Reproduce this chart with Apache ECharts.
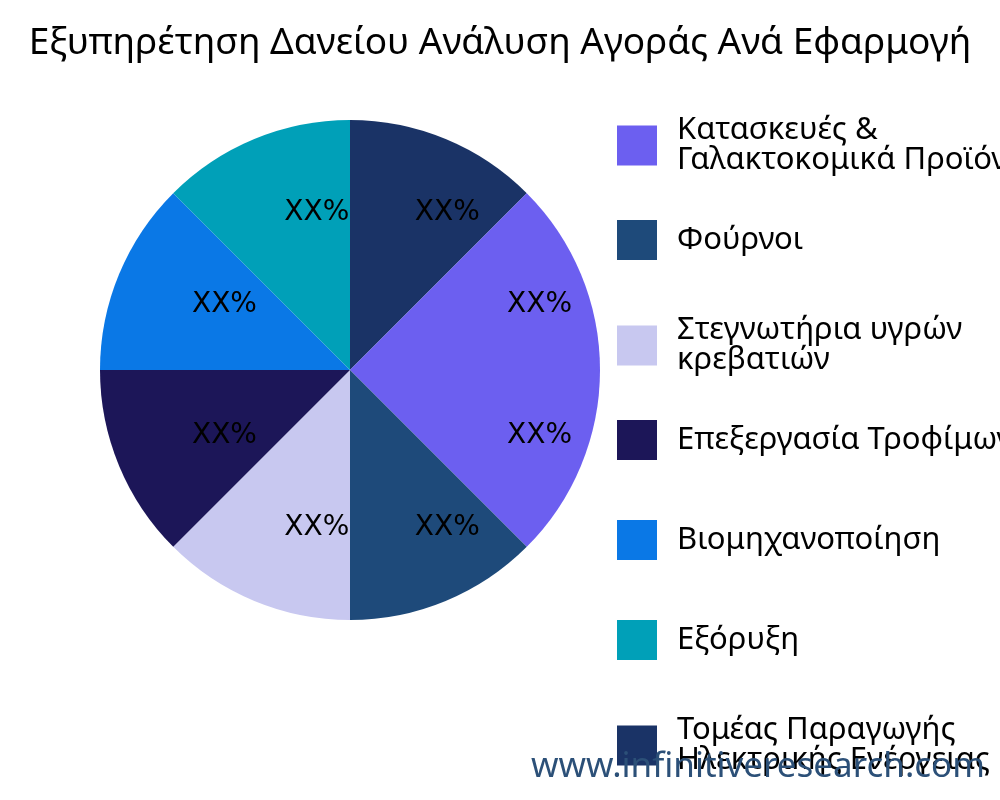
<!DOCTYPE html>
<html>
<head>
<meta charset="utf-8">
<script src="https://cdn.jsdelivr.net/npm/echarts@6/dist/echarts.min.js"></script>
<style>html,body{margin:0;padding:0;background:#fff}#main{width:1000px;height:800px}</style>
</head>
<body>
<div id="main"></div>
<script>
var categories = ['Κατασκευές & Γαλακτοκομικά Προϊόντα', 'Φούρνοι', 'Στεγνωτήρια υγρών κρεβατιών',
    'Επεξεργασία Τροφίμων', 'Βιομηχανοποίηση', 'Εξόρυξη', 'Τομέας Παραγωγής Ηλεκτρικής Ενέργειας', 'Άλλα'];
var values = [12.5, 12.5, 12.5, 12.5, 12.5, 12.5, 12.5, 12.5];
var legendNames = categories.slice(0, 7);
var colors = ['#6c5ff0', '#1e4a7a', '#c8c8f0', '#1c1658', '#0a78e6', '#00a0b8', '#1a3366'];

var wrapped = {
    'Κατασκευές & Γαλακτοκομικά Προϊόντα': 'Κατασκευές &\nΓαλακτοκομικά Προϊόντα',
    'Στεγνωτήρια υγρών κρεβατιών': 'Στεγνωτήρια υγρών\nκρεβατιών',
    'Τομέας Παραγωγής Ηλεκτρικής Ενέργειας': 'Τομέας Παραγωγής\nΗλεκτρικής Ενέργειας'
};

var pieData = [];
for (var i = 0; i < categories.length; i++) {
    pieData.push({ name: categories[i], value: values[i], itemStyle: { color: colors[i % colors.length] } });
}

// one legend per item so every row sits 100px apart
var legends = [];
for (var j = 0; j < legendNames.length; j++) {
    var two = !!wrapped[legendNames[j]];
    legends.push({
        orient: 'vertical', left: 612, top: 115 + 100 * j - (two ? 5 : 0),
        itemWidth: 40, itemHeight: 40, icon: 'rect',
        data: [legendNames[j]],
        formatter: function (n) { return wrapped[n] || n; },
        textStyle: { fontFamily: 'Noto Sans', fontSize: 31, color: '#000', lineHeight: 30, padding: [0, 0, 0, 15] }
    });
}

var option = {
    title: {
        text: 'Εξυπηρέτηση Δανείου Ανάλυση Αγοράς Ανά Εφαρμογή',
        left: 'center', top: 20,
        textStyle: { fontFamily: 'Noto Sans', fontSize: 37, fontWeight: 'normal', color: '#000' }
    },
    legend: legends,
    graphic: [{
        type: 'text', right: 15, top: 750, z: 100,
        style: { text: 'www.infinitiveresearch.com', fill: '#2c5078', font: '35px "Noto Sans"' }
    }],
    series: [{
        type: 'pie', center: [350, 370], radius: [0, 250], startAngle: 0,
        label: { show: false }, labelLine: { show: false }, silent: true,
        data: pieData
    }, {
        type: 'pie', center: [350, 370], radius: [85, 250], startAngle: 0, silent: true,
        itemStyle: { color: 'rgba(0,0,0,0)' },
        label: {
            show: true, position: 'inside', formatter: 'XX%',
            padding: [0, 0, 0, 64],
            fontFamily: 'DejaVu Sans', fontSize: 28, color: '#000', textBorderWidth: 0
        },
        data: values.map(function (v, i) { return { name: categories[i] + ' ', value: v }; })
    }]
};

var myChart = echarts.init(document.getElementById('main'));
myChart.setOption(option);
</script>
</body>
</html>
